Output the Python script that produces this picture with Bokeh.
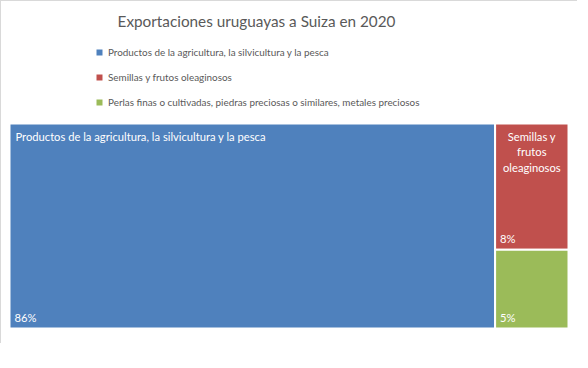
from bokeh.plotting import figure
from bokeh.models import ColumnDataSource, Range1d, Legend, LegendItem, Label
from bokeh.core.properties import value
from bokeh.embed import file_html
from bokeh.resources import INLINE

# ---- data ----
categories = [
    "Productos de la agricultura, la silvicultura y la pesca",
    "Semillas y frutos oleaginosos",
    "Perlas finas o cultivadas, piedras preciosas o similares, metales preciosos",
]
shares = [86, 8, 5]
tile_names = [
    "Productos de la agricultura, la silvicultura y la pesca",
    "Semillas y\nfrutos\noleaginosos",
    "",
]
colors = ["#4F81BD", "#C0504D", "#9BBB59"]
title_text = "Exportaciones uruguayas a Suiza en 2020"

FONT = "Lato"

# ---- treemap layout (slice and dice) in unit square ----
total = float(sum(shares))
w0 = shares[0] / total
rest = total - shares[0]
left, right, top, bottom = [0.0], [w0], [1.0], [0.0]
cur = 1.0
for v in shares[1:]:
    h = v / rest
    left.append(w0); right.append(1.0)
    top.append(cur); bottom.append(cur - h)
    cur -= h

W, H = 577, 343
TM_X0, TM_W = 8, 559
TM_Y0, TM_H = 122, 205

p = figure(width=W, height=H, output_backend="svg", toolbar_location=None,
           x_axis_type=None, y_axis_type=None,
           x_range=Range1d(-TM_X0 / TM_W, (W - TM_X0) / TM_W),
           y_range=Range1d(-(H - TM_Y0 - TM_H) / TM_H, 1 + TM_Y0 / TM_H),
           min_border=0,
           styles={"border-left": "1px solid #D9D9D9", "border-top": "1px solid #D9D9D9"})
p.outline_line_color = None
p.grid.visible = False
p.background_fill_color = "white"

renderers = []
for i in range(len(shares)):
    src = ColumnDataSource(dict(left=[left[i]], right=[right[i]], top=[top[i]], bottom=[bottom[i]]))
    r = p.quad(left="left", right="right", top="top", bottom="bottom", source=src,
               fill_color=colors[i], line_color="white", line_width=2)
    renderers.append(r)

# tile name labels
big = ColumnDataSource(dict(x=[left[0]], y=[top[0]], t=[tile_names[0]]))
p.text(x="x", y="y", text="t", source=big, x_offset=6, y_offset=6,
       text_align="left", text_baseline="top", text_color="white",
       text_font=value(FONT), text_font_size="11.2px")
small = ColumnDataSource(dict(
    x=[(l + r) / 2 for l, r in zip(left[1:], right[1:])],
    y=top[1:], t=tile_names[1:]))
p.text(x="x", y="y", text="t", source=small, x_offset=0, y_offset=6,
       text_align="center", text_baseline="top", text_color="white",
       text_font=value(FONT), text_font_size="11.2px", text_line_height=1.2)

# percentage labels
pct = ColumnDataSource(dict(x=left, y=bottom, t=[f"{v}%" for v in shares]))
p.text(x="x", y="y", text="t", source=pct, x_offset=5, y_offset=-11,
       text_align="left", text_baseline="alphabetic", text_color="white",
       text_font=value(FONT), text_font_size="11.2px")

# title
p.add_layout(Label(x=255, y=H - 19, x_units="screen", y_units="screen",
                   text=title_text, text_align="center", text_baseline="middle",
                   text_color="#595959", text_font=FONT, text_font_size="15.3px"))

# legend
items = [LegendItem(label=categories[i], renderers=[renderers[i]]) for i in range(len(shares))]
legend = Legend(items=items, location=(93, H - 111), orientation="vertical",
                padding=0, margin=0, border_line_color=None, background_fill_alpha=0,
                glyph_width=10, glyph_height=10, label_standoff=4, label_height=20, spacing=5,
                label_text_color="#595959", label_text_font=FONT, label_text_font_size="9.9px")
p.add_layout(legend, "center")

open("out.html", "w").write(file_html(p, INLINE))
